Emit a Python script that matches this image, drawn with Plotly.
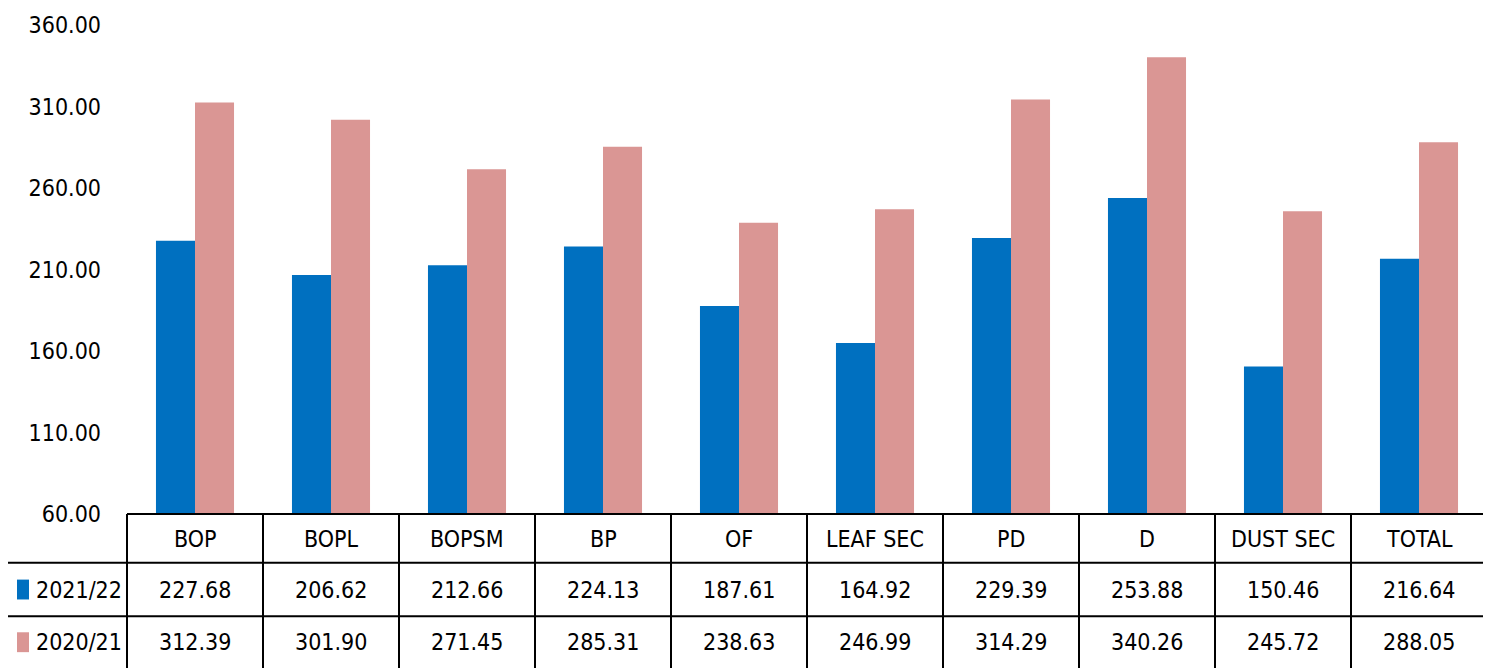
import plotly.graph_objects as go

categories = ["BOP", "BOPL", "BOPSM", "BP", "OF", "LEAF SEC", "PD", "D", "DUST SEC", "TOTAL"]
series_names = ["2021/22", "2020/21"]
values_2021_22 = [227.68, 206.62, 212.66, 224.13, 187.61, 164.92, 229.39, 253.88, 150.46, 216.64]
values_2020_21 = [312.39, 301.90, 271.45, 285.31, 238.63, 246.99, 314.29, 340.26, 245.72, 288.05]
y_ticks = [60, 110, 160, 210, 260, 310, 360]

colors = ["#0070C0", "#DA9694"]
FONT = "Liberation Sans Narrow, DejaVu Sans Condensed, Arial Narrow, sans-serif"
FS = 23

OFF = 8  # page body margin
W, H = 1491 - OFF, 668 - OFF
ml, mr, mt, mb = 127 - OFF, 4, 22 - OFF, 668 - 514
plot_w = W - ml - mr
plot_h = H - mt - mb


def px_to_paper_x(px):
    # px in screenshot coordinates
    return (px - OFF - ml) / plot_w


def py_to_paper_y(py):
    return (H - mb - (py - OFF)) / plot_h


fig = go.Figure()
for name, vals, col in zip(series_names, [values_2021_22, values_2020_21], colors):
    fig.add_trace(go.Bar(x=categories, y=vals, name=name, marker=dict(color=col, line=dict(width=0)),
                         showlegend=False))

row_edges = [514, 563, 617, 672]
left_px = 7
n = len(categories)
shapes = []
lw = 2
shapes.append(dict(type="line", xref="paper", yref="paper", x0=0, x1=1,
                   y0=py_to_paper_y(row_edges[0]), y1=py_to_paper_y(row_edges[0]),
                   line=dict(color="black", width=lw)))
for e in row_edges[1:]:
    shapes.append(dict(type="line", xref="paper", yref="paper", x0=px_to_paper_x(left_px), x1=1,
                       y0=py_to_paper_y(e), y1=py_to_paper_y(e), line=dict(color="black", width=lw)))
for k in range(n + 1):
    xk = k / n
    shapes.append(dict(type="line", xref="paper", yref="paper", x0=xk, x1=xk,
                       y0=py_to_paper_y(row_edges[0]), y1=py_to_paper_y(row_edges[-1]),
                       line=dict(color="black", width=lw)))
shapes.append(dict(type="line", xref="paper", yref="paper", x0=px_to_paper_x(left_px), x1=px_to_paper_x(left_px),
                   y0=py_to_paper_y(row_edges[1]), y1=py_to_paper_y(row_edges[-1]),
                   line=dict(color="black", width=lw)))

annotations = []
header_cy = 539
row_cys = [590, 643]
for c in categories:
    annotations.append(dict(x=c, xref="x", y=py_to_paper_y(header_cy), yref="paper", text=c,
                            showarrow=False, font=dict(family=FONT, size=FS, color="black"),
                            xanchor="center", yanchor="middle"))
for vals, cy in zip([values_2021_22, values_2020_21], row_cys):
    for c, v in zip(categories, vals):
        annotations.append(dict(x=c, xref="x", y=py_to_paper_y(cy), yref="paper", text=f"{v:.2f}",
                                showarrow=False, font=dict(family=FONT, size=FS, color="black"),
                                xanchor="center", yanchor="middle"))
for name, col, cy in zip(series_names, colors, row_cys):
    shapes.append(dict(type="rect", xref="paper", yref="paper", x0=px_to_paper_x(17), x1=px_to_paper_x(29),
                       y0=py_to_paper_y(cy - 10), y1=py_to_paper_y(cy + 10),
                       fillcolor=col, line=dict(width=0)))
    annotations.append(dict(x=px_to_paper_x(34), xref="paper", y=py_to_paper_y(cy), yref="paper", text=name,
                            showarrow=False, font=dict(family=FONT, size=FS, color="black"),
                            xanchor="left", yanchor="middle"))

fig.update_layout(
    width=W, height=H,
    margin=dict(l=ml, r=mr, t=mt, b=mb),
    paper_bgcolor="white", plot_bgcolor="white",
    barmode="group", bargap=0.426, bargroupgap=0,
    font=dict(family=FONT, size=FS, color="black"),
    shapes=shapes, annotations=annotations,
    xaxis=dict(showticklabels=False, showgrid=False, zeroline=False, showline=False, ticks="",
               range=[-0.5, n - 0.5]),
    yaxis=dict(range=[60, 360], tickvals=y_ticks, tickformat=".2f", showgrid=False, zeroline=False,
               showline=False, ticks="", ticklabelstandoff=25,
               tickfont=dict(family=FONT, size=FS, color="black")),
)

fig.write_html("out.html")
